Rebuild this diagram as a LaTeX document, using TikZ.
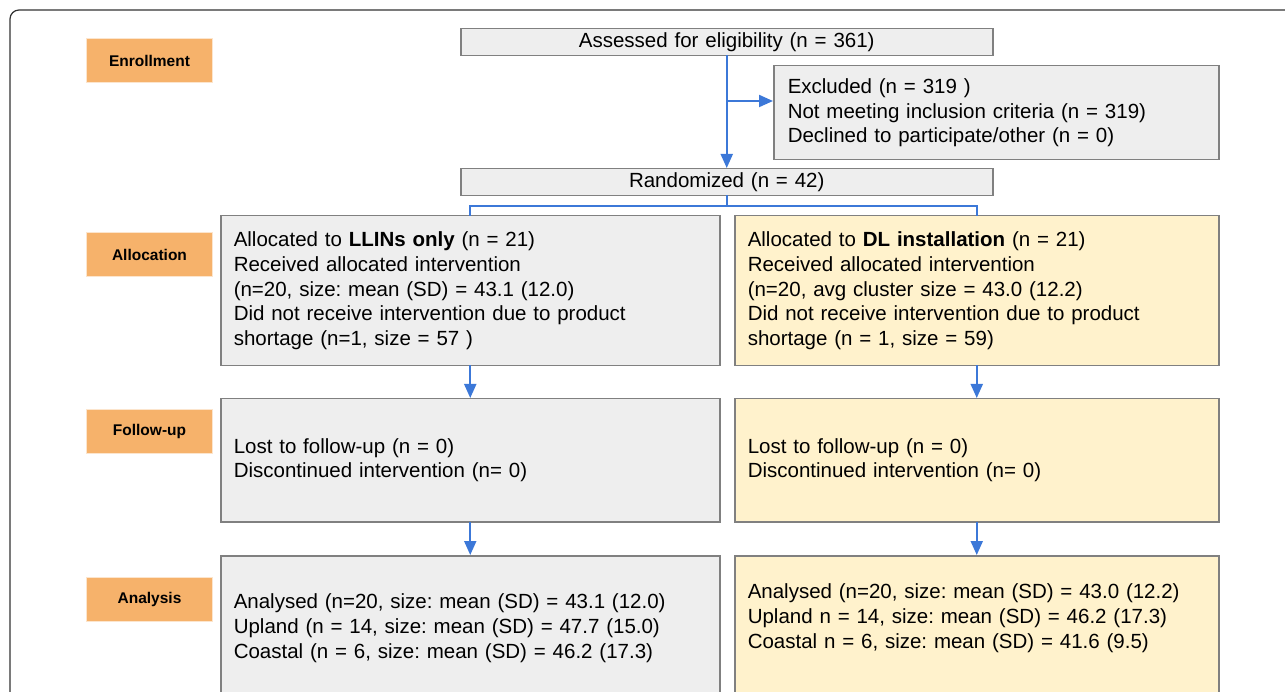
\documentclass[tikz,border=0pt]{standalone}
\usepackage{fontspec}
\setmainfont{Liberation Sans}
\usepackage{tikz}
\usetikzlibrary{arrows.meta}
\frenchspacing
\tikzset{
	stagelabel/.style={draw=custcol_fc_e5_cd, fill=custcol_f6_b2_6b, line width=1.0pt, anchor=north west, minimum width=126pt, minimum height=44pt, inner sep=0pt, font=\fontsize{15.5pt}{15.5pt}\bfseries\selectfont},
	flowbox/.style={draw=custcol_80_80_80, fill=custcol_ee_ee_ee, line width=1.5pt, anchor=north west, inner xsep=13pt, inner ysep=0pt, align=left, font=\fontsize{20.5pt}{24.7pt}\selectfont},
	armbox/.style={flowbox, fill=custcol_ff_f2_cc},
	flowline/.style={draw=custcol_3c_78_d8, line width=2.0pt},
	flowarrow/.style={flowline, -{Triangle[length=14pt,width=12pt]}}
}
\begin{document}
\begin{tikzpicture}[x=1pt,y=-1pt,line cap=rect]
	\definecolor{custcol_f6_b2_6b}{RGB}{246, 178, 107}
	\definecolor{custcol_fc_e5_cd}{RGB}{252, 229, 205}
	\definecolor{custcol_ee_ee_ee}{RGB}{238, 238, 238}
	\definecolor{custcol_ff_f2_cc}{RGB}{255, 242, 204}
	\definecolor{custcol_80_80_80}{RGB}{128, 128, 128}
	\definecolor{custcol_3c_78_d8}{RGB}{60, 120, 216}
	\definecolor{custcol_33_33_33}{RGB}{51, 51, 51}
	\useasboundingbox (0.0,0.0) rectangle (1285.0,692.0);
	\draw [line width=1.2pt, custcol_33_33_33, rounded corners=9pt] (10.0,720.0) -- (10.0,10.0) -- (1310.0,10.0);
	% stage labels
	\node[stagelabel] (enrollment) at (86.0,38.0) {Enrollment};
	\node[stagelabel] (allocation) at (86.0,232.0) {Allocation};
	\node[stagelabel] (followup) at (86.0,409.0) {Follow-up};
	\node[stagelabel] (analysis) at (86.0,577.0) {Analysis};
	% enrollment
	\node[flowbox, align=center, text width=506pt, minimum height=27pt] (assessed) at (460.0,28.0) {Assessed for eligibility (n = 361)};
	\node[flowbox, inner xsep=14pt, text width=417pt, minimum height=94pt] (excluded) at (773.0,65.0) {Excluded (n = 319 )\\Not meeting inclusion criteria (n = 319)\\Declined to participate/other (n = 0)};
	\node[flowbox, align=center, text width=506pt, minimum height=27pt] (randomized) at (460.0,168.0) {Randomized (n = 42)};
	\coordinate (exclsplit) at (assessed.south |- 0.0,101.0);
	\draw [flowarrow] (assessed.south) -- (randomized.north);
	\draw [flowarrow] (exclsplit) -- (exclsplit -| excluded.west);
	% allocation
	\node[flowbox, text width=473pt, minimum height=150pt] (llinsalloc) at (220.0,215.0) {Allocated to \textbf{LLINs only} (n = 21)\\Received allocated intervention\\(n=20, size: mean (SD) = 43.1 (12.0)\\Did not receive intervention due to product\\shortage (n=1, size = 57 )};
	\node[armbox, text width=458pt, minimum height=150pt] (dlalloc) at (734.0,215.0) {Allocated to \textbf{DL installation} (n = 21)\\Received allocated intervention\\(n=20, avg cluster size = 43.0 (12.2)\\Did not receive intervention due to product\\shortage (n = 1, size = 59)};
	\draw [flowline] (randomized.south) -- ++(0.0,10.0) coordinate (randsplit);
	\draw [flowline] (llinsalloc.north) -- (randsplit -| llinsalloc.north) -- (randsplit -| dlalloc.north) -- (dlalloc.north);
	% follow-up
	\node[flowbox, text width=473pt, minimum height=123pt] (llinsfollow) at (220.0,398.0) {Lost to follow-up (n = 0)\\Discontinued intervention (n= 0)};
	\node[armbox, text width=458pt, minimum height=123pt] (dlfollow) at (734.0,398.0) {Lost to follow-up (n = 0)\\Discontinued intervention (n= 0)};
	\draw [flowarrow] (llinsalloc.south) -- (llinsfollow.north);
	\draw [flowarrow] (dlalloc.south) -- (dlfollow.north);
	% analysis
	\node[flowbox, text width=473pt, minimum height=145pt] (llinsanalysis) at (220.0,555.0) {Analysed (n=20, size: mean (SD) = 43.1 (12.0)\\Upland (n = 14, size: mean (SD) = 47.7 (15.0)\\Coastal (n = 6, size: mean (SD) = 46.2 (17.3)};
	\node[armbox, text width=458pt, minimum height=145pt] (dlanalysis) at (734.0,555.0) {Analysed (n=20, size: mean (SD) = 43.0 (12.2)\\Upland n = 14, size: mean (SD) = 46.2 (17.3)\\Coastal n = 6, size: mean (SD) = 41.6 (9.5)\\\mbox{}};
	\draw [flowarrow] (llinsfollow.south) -- (llinsanalysis.north);
	\draw [flowarrow] (dlfollow.south) -- (dlanalysis.north);
\end{tikzpicture}
\end{document}
